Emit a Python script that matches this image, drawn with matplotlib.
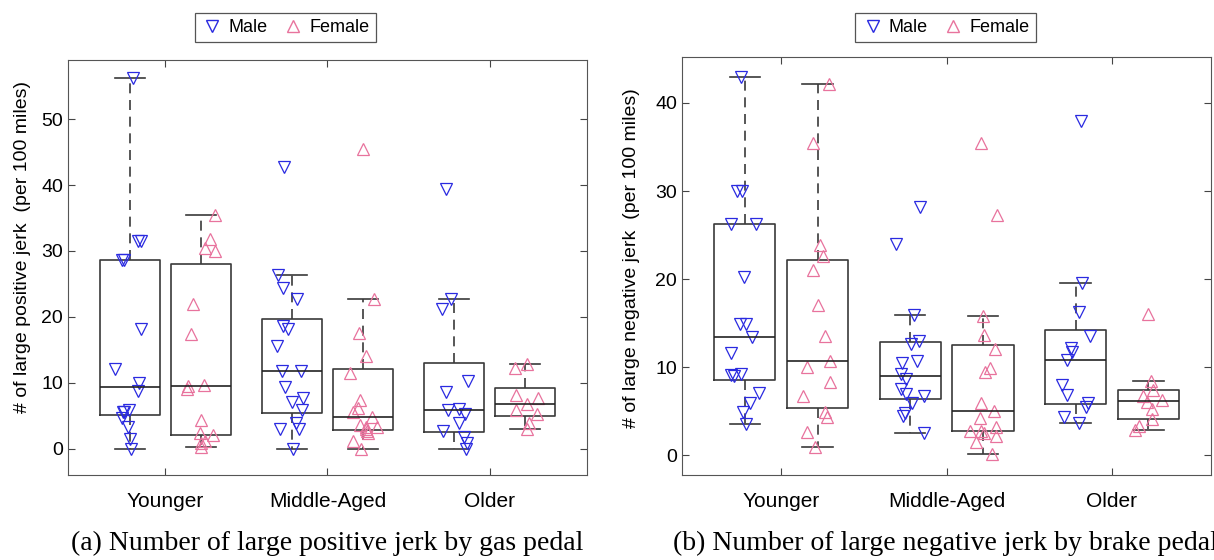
import numpy as np
import matplotlib
matplotlib.use("Agg")
import matplotlib.pyplot as plt

groups = ["Younger", "Middle-Aged", "Older"]

# (a) large positive jerk by gas pedal, per 100 miles
pos_male_young = [56.2, 31.5, 31.5, 28.6, 28.6, 18.2, 12.1, 10.0, 8.8, 5.8, 5.6, 5.5, 4.7, 3.3, 1.4, 0.0]
pos_female_young = [35.4, 31.8, 30.4, 30.0, 22.0, 17.4, 9.7, 9.5, 9.1, 4.4, 2.3, 2.0, 1.2, 0.9, 0.2]
pos_male_mid = [42.7, 26.4, 24.4, 22.7, 18.6, 18.2, 15.6, 11.8, 11.8, 9.4, 7.6, 7.0, 5.9, 3.9, 2.9, 2.9, 0.0]
pos_female_mid = [45.4, 22.7, 17.6, 14.1, 11.5, 7.4, 6.1, 5.6, 4.8, 3.5, 3.3, 3.2, 2.9, 2.6, 2.3, 1.2, 0.0]
pos_male_old = [39.4, 22.7, 21.2, 10.2, 8.6, 6.0, 5.8, 5.3, 3.9, 2.7, 1.7, 0.8, 0.0]
pos_female_old = [12.9, 12.3, 8.2, 7.7, 6.8, 5.8, 5.3, 3.9, 2.9]

# (b) large negative jerk by brake pedal, per 100 miles
neg_male_young = [43.0, 30.0, 30.0, 26.3, 26.3, 20.3, 14.9, 14.9, 13.5, 11.6, 9.2, 9.1, 9.0, 7.1, 6.0, 4.9, 3.6]
neg_female_young = [42.2, 35.5, 23.9, 22.6, 21.0, 17.1, 13.6, 10.7, 10.0, 8.3, 6.7, 4.9, 4.4, 2.7, 1.0]
neg_male_mid = [28.2, 24.0, 15.9, 13.0, 12.7, 10.7, 10.5, 9.3, 8.7, 7.5, 7.0, 6.8, 6.0, 4.8, 4.5, 2.6]
neg_female_mid = [35.5, 27.3, 15.8, 13.7, 12.1, 9.9, 9.5, 6.0, 5.0, 4.3, 3.2, 2.8, 2.8, 2.6, 2.2, 1.5, 0.2]
neg_male_old = [37.9, 19.6, 16.3, 13.6, 12.2, 11.7, 10.8, 8.0, 6.9, 5.9, 5.5, 4.4, 3.7]
neg_female_old = [16.0, 8.5, 7.4, 6.7, 6.3, 6.1, 5.3, 4.1, 3.3, 2.9]

male_c = "#2a2ae0"
female_c = "#e8739d"
sans = "Liberation Sans"
serif = "Liberation Serif"

rng = np.random.default_rng(7)


def box_stats(vals):
    # matlab style quartiles + whiskers at 1.5 IQR
    v = np.sort(np.asarray(vals, float))
    q1, med, q3 = np.percentile(v, [25, 50, 75], method="hazen")
    iqr = q3 - q1
    lo = v[v >= q1 - 1.5 * iqr].min()
    hi = v[v <= q3 + 1.5 * iqr].max()
    return dict(med=med, q1=q1, q3=q3, whislo=lo, whishi=hi, fliers=[])


def panel(ax, male, female, ylab, ylim, yticks):
    stats, posn = [], []
    for i in range(3):
        stats += [box_stats(male[i]), box_stats(female[i])]
        posn += [i + 1 - 0.22, i + 1 + 0.22]
    ax.bxp(stats, positions=posn, widths=0.37, showfliers=False,
           boxprops=dict(color="#3a3a3a", lw=1.2),
           medianprops=dict(color="#222222", lw=1.2),
           whiskerprops=dict(color="#3a3a3a", lw=1.2, ls=(0, (6, 4))),
           capprops=dict(color="#3a3a3a", lw=1.2))
    for i in range(3):
        for data, off, mk, c in [(male[i], -0.22, "v", male_c), (female[i], 0.22, "^", female_c)]:
            x = i + 1 + off + rng.uniform(-0.09, 0.09, len(data))
            ax.plot(x, data, ls="none", marker=mk, ms=9, mfc="none", mec=c, mew=0.9)
    ax.set_xlim(0.4, 3.6)
    ax.set_ylim(*ylim)
    ax.set_yticks(yticks)
    ax.set_xticks([1, 2, 3])
    ax.set_xticklabels(groups)
    ax.tick_params(direction="in", top=True, right=True, length=5, labelsize=14, color="#444444")
    ax.tick_params(axis="x", pad=12, labelsize=15)
    for lab in ax.get_xticklabels() + ax.get_yticklabels():
        lab.set_family(sans)
    ax.set_ylabel(ylab, fontsize=14, family=sans)
    for s in ax.spines.values():
        s.set_color("#555555")


fig = plt.figure(figsize=(12.14, 5.6), dpi=100)
ax1 = fig.add_axes([0.056, 0.152, 0.4275, 0.741])
ax2 = fig.add_axes([0.5618, 0.152, 0.4358, 0.746])

panel(ax1, [pos_male_young, pos_male_mid, pos_male_old],
      [pos_female_young, pos_female_mid, pos_female_old],
      "# of large positive jerk  (per 100 miles)", (-4, 59), range(0, 60, 10))
panel(ax2, [neg_male_young, neg_male_mid, neg_male_old],
      [neg_female_young, neg_female_mid, neg_female_old],
      "# of large negative jerk  (per 100 miles)", (-2.2, 45.2), range(0, 50, 10))
ax1.yaxis.set_label_coords(-0.072, 0.55)
ax2.yaxis.set_label_coords(-0.08, 0.52)

for ax, cx in [(ax1, 0.235), (ax2, 0.779)]:
    h1, = ax.plot([], [], ls="none", marker="v", ms=8, mfc="none", mec=male_c)
    h2, = ax.plot([], [], ls="none", marker="^", ms=8, mfc="none", mec=female_c)
    leg = ax.legend([h1, h2], ["Male", "Female"], ncol=2, loc="center",
                    bbox_to_anchor=(cx, 0.951), bbox_transform=fig.transFigure,
                    fancybox=False, framealpha=1, edgecolor="#555555",
                    prop=dict(family=sans, size=13), handletextpad=0.3,
                    columnspacing=0.8, handlelength=1.2, borderpad=0.35)
    leg.get_frame().set_linewidth(0.9)

# subfigure captions; (b) runs past the right edge like the source
fig.text(0.2695, 0.03, "(a) Number of large positive jerk by gas pedal",
         family=serif, fontsize=20, ha="center", va="center")
fig.text(0.779, 0.03, "(b) Number of large negative jerk by brake pedal",
         family=serif, fontsize=20, ha="center", va="center")

fig.savefig("out.png", dpi=100)
